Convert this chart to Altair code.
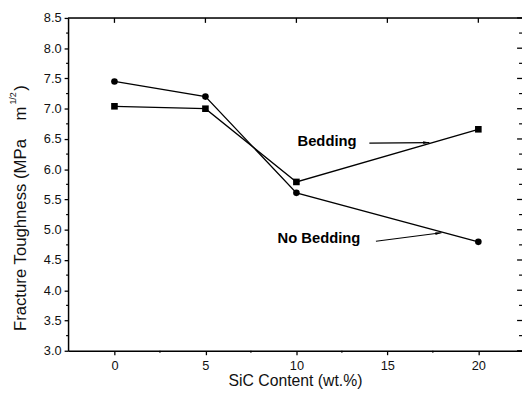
import altair as alt
import pandas as pd

# ---- data ----
sic = [0, 5, 10, 20]
bedding = [7.04, 7.00, 5.79, 6.66]
no_bedding = [7.45, 7.20, 5.61, 4.80]

x_major = [0, 5, 10, 15, 20]
x_minor = [2.5, 7.5, 12.5, 17.5]
y_major = [3.0, 3.5, 4.0, 4.5, 5.0, 5.5, 6.0, 6.5, 7.0, 7.5, 8.0, 8.5]
y_minor = [3.25, 3.75, 4.25, 4.75, 5.25, 5.75, 6.25, 6.75, 7.25, 7.75, 8.25]

ann_text = ["Bedding", "No Bedding"]
ann_x = [10.06, 8.96]
ann_y = [6.47, 4.86]

arrow_id = ["b", "b", "n", "n"]
arrow_x = [14.01, 17.31, 14.37, 17.98]
arrow_y = [6.43, 6.44, 4.81, 4.95]
head_x = [17.31, 17.98]
head_y = [6.44, 4.95]
head_angle = [359, 353]

FONT = "Liberation Sans"
W, H = 461, 338
NB = "\u00a0"

rows = []
for s, b, n in zip(sic, bedding, no_bedding):
    rows.append({"x": s, "y": b, "series": "Bedding"})
    rows.append({"x": s, "y": n, "series": "No Bedding"})
df = pd.DataFrame(rows)

xscale = alt.Scale(domain=[-2.55, 22.4], nice=False, zero=False)
yscale = alt.Scale(domain=[3.0, 8.5], nice=False, zero=False)

x_axis = alt.Axis(values=x_major, format="d", tickSize=4, tickWidth=1.3,
                  tickColor="black", domainColor="black", domainWidth=1.5,
                  labelFont=FONT, labelFontSize=13, labelColor="#111",
                  labelPadding=5, grid=False,
                  title="SiC Content (wt.%)", titleFont=FONT, titleFontSize=16,
                  titleFontWeight="normal", titleColor="#111",
                  titleY=30, titleBaseline="middle")
y_axis = alt.Axis(values=y_major, format=".1f", tickSize=4, tickWidth=1.3,
                  tickColor="black", domainColor="black", domainWidth=1.5,
                  labelFont=FONT, labelFontSize=13, labelColor="#111",
                  labelPadding=3, grid=False, title="")

X = alt.X("x:Q", scale=xscale, axis=x_axis)
Y = alt.Y("y:Q", scale=yscale, axis=y_axis)

lines = alt.Chart(df).mark_line(color="black", strokeWidth=1.3).encode(
    x=X, y=Y, detail="series:N",
)
points = alt.Chart(df).mark_point(filled=True, color="black", opacity=1, size=45).encode(
    x=X, y=Y,
    shape=alt.Shape("series:N", scale=alt.Scale(domain=["Bedding", "No Bedding"],
                                                range=["square", "circle"]), legend=None),
)

# frame decorations
top_line = alt.Chart(pd.DataFrame({"y": [8.5]})).mark_rule(color="black", strokeWidth=1.5).encode(
    y=Y, x=alt.value(0), x2=alt.value(W))
top_ticks = alt.Chart(pd.DataFrame({"x": x_major})).mark_rule(color="black", strokeWidth=1.3).encode(
    x=X, y=alt.value(0), y2=alt.value(5))
bot_minor = alt.Chart(pd.DataFrame({"x": x_minor})).mark_rule(color="black", strokeWidth=1.2).encode(
    x=X, y=alt.value(H), y2=alt.value(H + 2))
right_major = alt.Chart(pd.DataFrame({"y": y_major})).mark_rule(color="black", strokeWidth=1.3).encode(
    y=Y, x=alt.value(W - 5), x2=alt.value(W))
right_minor = alt.Chart(pd.DataFrame({"y": y_minor})).mark_rule(color="black", strokeWidth=1.2).encode(
    y=Y, x=alt.value(W - 3), x2=alt.value(W))
left_minor = alt.Chart(pd.DataFrame({"y": y_minor})).mark_rule(color="black", strokeWidth=1.2).encode(
    y=Y, x=alt.value(-2), x2=alt.value(0))

# annotations
ann = alt.Chart(pd.DataFrame({"t": ann_text, "x": ann_x, "y": ann_y})).mark_text(
    font=FONT, fontSize=15, fontWeight="bold", align="left", baseline="middle", color="black"
).encode(x=X, y=Y, text="t:N")
arrows = alt.Chart(pd.DataFrame({"id": arrow_id, "x": arrow_x, "y": arrow_y})).mark_line(
    color="black", strokeWidth=1.2
).encode(x=X, y=Y, detail="id:N")
heads = alt.Chart(pd.DataFrame({"x": head_x, "y": head_y, "a": head_angle})).mark_point(
    filled=True, color="black", opacity=1, size=40,
    shape="M0,0L-2,-0.45L-2,0.45Z"
).encode(x=X, y=Y, angle=alt.Angle("a:Q", scale=None))

# y title with superscript
yt_main = alt.Chart(pd.DataFrame({"t": ["Fracture Toughness (MPa" + NB * 4 + "m"]})).mark_text(
    font=FONT, fontSize=17, angle=270, align="left", baseline="middle", color="#111"
).encode(text="t:N", x=alt.value(-48), y=alt.value(318))
yt_sup = alt.Chart(pd.DataFrame({"t": ["1/2"]})).mark_text(
    font=FONT, fontSize=9, angle=270, align="left", baseline="middle", color="#111"
).encode(text="t:N", x=alt.value(-56), y=alt.value(88))
yt_par = alt.Chart(pd.DataFrame({"t": [")"]})).mark_text(
    font=FONT, fontSize=17, angle=270, align="left", baseline="middle", color="#111"
).encode(text="t:N", x=alt.value(-48), y=alt.value(74))

chart = alt.layer(
    lines, points, top_line, top_ticks, bot_minor, right_major, right_minor, left_minor,
    arrows, heads, ann, yt_main, yt_sup, yt_par
).properties(
    width=W, height=H,
    autosize=alt.AutoSizeParams(type="none"),
    padding={"left": 61, "top": 7, "right": 0, "bottom": 53},
).configure_view(stroke=None).configure(background="white")

chart.save("out.html", embed_options={"renderer": "svg", "actions": False})
